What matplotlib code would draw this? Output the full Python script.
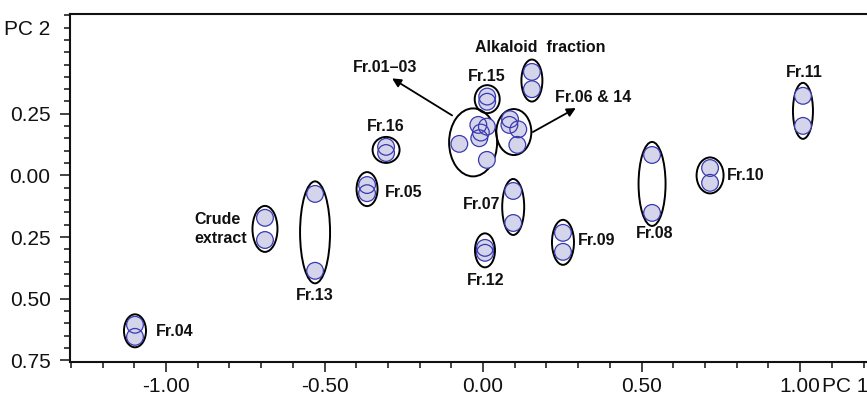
import matplotlib
matplotlib.use("Agg")
import matplotlib.pyplot as plt
from matplotlib.patches import Ellipse
from matplotlib.ticker import MultipleLocator, FixedLocator, FuncFormatter
import numpy as np

plt.rcParams['font.family'] = ['Liberation Sans', 'DejaVu Sans']
plt.rcParams['axes.unicode_minus'] = False

# ---------------- data (PCA scores) ----------------
group_names = ["Fr.04", "Crude extract", "Fr.13", "Fr.05", "Fr.16", "Fr.01-03",
               "Fr.15", "Alkaloid fraction", "Fr.06 & 14", "Fr.07", "Fr.12",
               "Fr.09", "Fr.08", "Fr.10", "Fr.11"]

group_labels = ["Fr.04", "Crude\nextract", "Fr.13", "Fr.05", "Fr.16", "Fr.01\u201303",
                "Fr.15", "Alkaloid  fraction", "Fr.06 & 14", "Fr.07", "Fr.12",
                "Fr.09", "Fr.08", "Fr.10", "Fr.11"]

pc1_scores = [
    [-1.098, -1.098],
    [-0.688, -0.688],
    [-0.530, -0.530],
    [-0.366, -0.366],
    [-0.306, -0.306],
    [-0.075, -0.015, 0.012, -0.012, -0.007, 0.012],
    [0.013, 0.013],
    [0.154, 0.154],
    [0.085, 0.083, 0.111, 0.108],
    [0.095, 0.095],
    [0.006, 0.006],
    [0.252, 0.252],
    [0.533, 0.533],
    [0.716, 0.716],
    [1.009, 1.009],
]

pc2_scores = [
    [-0.606, -0.655],
    [-0.172, -0.262],
    [-0.075, -0.387],
    [-0.039, -0.072],
    [0.116, 0.091],
    [0.128, 0.205, 0.198, 0.151, 0.174, 0.063],
    [0.320, 0.299],
    [0.420, 0.350],
    [0.228, 0.205, 0.187, 0.124],
    [-0.063, -0.193],
    [-0.294, -0.314],
    [-0.233, -0.310],
    [0.083, -0.152],
    [0.030, -0.030],
    [0.323, 0.201],
]

x_major = [-1.00, -0.50, 0.00, 0.50, 1.00]
y_major = [-0.75, -0.50, -0.25, 0.00, 0.25]

# ---------------- layout (pixels) ----------------
# ellipse (width, height) in pixels
ellipse_px = {
    "Fr.04": (22, 33), "Crude extract": (25, 46), "Fr.13": (30, 102),
    "Fr.05": (21, 34), "Fr.16": (27, 26), "Fr.01-03": (48, 68),
    "Fr.15": (25, 28), "Alkaloid fraction": (21, 42), "Fr.06 & 14": (35, 46),
    "Fr.07": (22, 56), "Fr.12": (20, 34), "Fr.09": (22, 45),
    "Fr.08": (27, 84), "Fr.10": (27, 36), "Fr.11": (20, 56),
}
# label offset (dx right, dy up) in pixels from group centre, and alignment
label_pos = {
    "Fr.04": (21, -1, 'left'), "Crude extract": (-18, 0, 'right'),
    "Fr.13": (0, -63, 'center'), "Fr.05": (18, -3, 'left'),
    "Fr.16": (0, 23, 'center'), "Fr.01-03": (-88, 75, 'center'),
    "Fr.15": (0, 23, 'center'), "Alkaloid fraction": (8, 33, 'center'),
    "Fr.06 & 14": (41, 35, 'left'), "Fr.07": (-13, 2, 'right'),
    "Fr.12": (1, -30, 'center'), "Fr.09": (15, 2, 'left'),
    "Fr.08": (3, -50, 'center'), "Fr.10": (17, 0, 'left'),
    "Fr.11": (1, 38, 'center'),
}
# arrows: (tail dx, tail dy, tip dx, tip dy) in pixels from group centre
arrows = {
    "Fr.01-03": (-21, 27, -81, 64),
    "Fr.06 & 14": (19, 0, 62, 24),
}

W, H = 867, 395
fig = plt.figure(figsize=(W / 100, H / 100), dpi=100)
left_px, right_px, top_px, bottom_px = 70, 867, 14, 361.5
ax = fig.add_axes([left_px / W, (H - bottom_px) / H,
                   (right_px - left_px) / W, (bottom_px - top_px) / H])
xlim = (-1.303, 1.211)
ylim = (-0.755, 0.655)
ax.set_xlim(*xlim)
ax.set_ylim(*ylim)

ppx = (right_px - left_px) / (xlim[1] - xlim[0])
ppy = (bottom_px - top_px) / (ylim[1] - ylim[0])

fill_c = '#d4d4eb'
edge_c = '#3a3ab0'

for name, label, xs, ys in zip(group_names, group_labels, pc1_scores, pc2_scores):
    xs = np.asarray(xs); ys = np.asarray(ys)
    cx = (xs.min() + xs.max()) / 2
    cy = (ys.min() + ys.max()) / 2
    ew, eh = ellipse_px[name]
    ax.add_patch(Ellipse((cx, cy), ew / ppx, eh / ppy, facecolor='none',
                         edgecolor='black', lw=1.4, zorder=2))
    ax.scatter(xs, ys, s=145, facecolor=fill_c, edgecolor='none', zorder=3)
    ax.scatter(xs, ys, s=145, facecolor='none', edgecolor=edge_c, lw=0.9, zorder=4)
    dx, dy, ha = label_pos[name]
    ax.annotate(label, xy=(cx, cy), xytext=(dx, dy), textcoords='offset pixels',
                ha=ha, va='center', fontsize=11.5, fontweight='bold',
                multialignment='left', linespacing=1.3, color='#111111', zorder=5)
    if name in arrows:
        tx, ty, hx, hy = arrows[name]
        ax.annotate('', xy=(cx + hx / ppx, cy + hy / ppy),
                    xytext=(cx + tx / ppx, cy + ty / ppy),
                    arrowprops=dict(arrowstyle='-|>', color='black', lw=1.3,
                                    mutation_scale=13, shrinkA=0, shrinkB=0),
                    zorder=5)

# axes styling
for s in ['left', 'bottom', 'top']:
    ax.spines[s].set_linewidth(1.5)
    ax.spines[s].set_color('#111111')
ax.spines['right'].set_visible(False)

ax.xaxis.set_major_locator(FixedLocator(x_major))
ax.xaxis.set_minor_locator(MultipleLocator(0.1))
ax.yaxis.set_major_locator(FixedLocator(y_major))
ax.yaxis.set_minor_locator(MultipleLocator(0.05))
ax.xaxis.set_major_formatter(FuncFormatter(lambda v, p: f"{v:.2f}"))
ax.yaxis.set_major_formatter(FuncFormatter(lambda v, p: f"{abs(v):.2f}"))
ax.tick_params(which='major', direction='out', length=7, width=1.1,
               labelsize=15, colors='#111111')
ax.tick_params(which='minor', direction='out', length=4.5, width=1.1, colors='#111111')
ax.tick_params(axis='x', which='major', pad=4.5)
ax.tick_params(axis='y', which='major', pad=7)

ax.annotate("PC 1", xy=(1.0, 0), xycoords=('data', 'axes fraction'),
            xytext=(22, -(7 + 4.5) * 100 / 72), textcoords='offset pixels',
            ha='left', va='top', fontsize=15, color='#111111')
ax.annotate("PC 2", xy=(0, 0.60), xycoords=('axes fraction', 'data'),
            xytext=(-(7 + 7) * 100 / 72, 0), textcoords='offset pixels',
            ha='right', va='center_baseline', fontsize=15, color='#111111')

fig.savefig("out.png", dpi=100)
